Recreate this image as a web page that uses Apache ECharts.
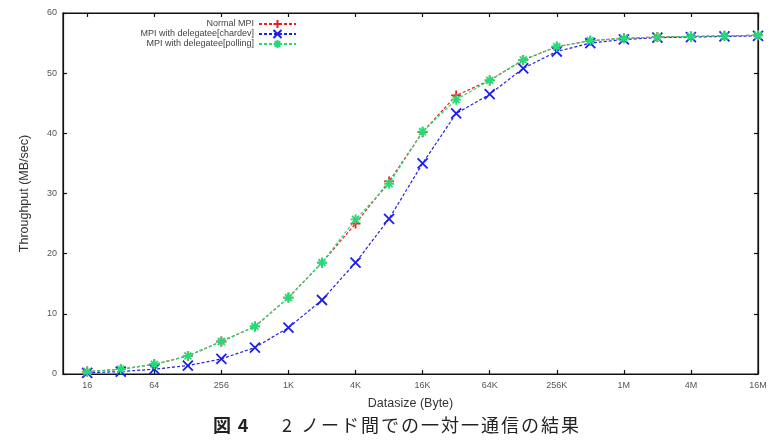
<!DOCTYPE html>
<html>
<head>
<meta charset="utf-8">
<script src="https://cdn.jsdelivr.net/npm/echarts@6/dist/echarts.min.js"></script>
<style>
html,body{margin:0;padding:0;background:#fff;}
#chart{width:777px;height:448px;}
</style>
</head>
<body>
<div id="chart"></div>
<script>
// Data sizes in bytes (x values)
const sizes = [16, 32, 64, 128, 256, 512, 1024, 2048, 4096, 8192, 16384, 32768, 65536,
  131072, 262144, 524288, 1048576, 2097152, 4194304, 8388608, 16777216];
// Tick positions and labels
const tickSizes = [16, 64, 256, 1024, 4096, 16384, 65536, 262144, 1048576, 4194304, 16777216];
const tickLabels = ['16', '64', '256', '1K', '4K', '16K', '64K', '256K', '1M', '4M', '16M'];

const seriesNames = ['Normal MPI', 'MPI with delegatee[chardev]', 'MPI with delegatee[polling]'];
const normalMPI = [0.4, 0.8, 1.6, 3.0, 5.4, 7.9, 12.7, 18.5, 25.0, 32.0, 40.2, 46.3, 48.8,
  52.2, 54.4, 55.4, 55.8, 56.0, 56.1, 56.2, 56.3];
const chardev = [0.2, 0.4, 0.8, 1.4, 2.5, 4.4, 7.7, 12.3, 18.5, 25.8, 35.0, 43.3, 46.5,
  50.8, 53.6, 55.0, 55.6, 55.9, 56.0, 56.1, 56.2];
const polling = [0.4, 0.8, 1.6, 3.0, 5.4, 7.9, 12.7, 18.5, 25.7, 31.6, 40.3, 45.6, 48.8,
  52.2, 54.4, 55.4, 55.8, 56.0, 56.1, 56.2, 56.3];

const captionHead = ['図', '4'];
const captionNum = '2';
const captionBody = 'ノード間での一対一通信の結果';

const xMinSize = 9.7;
const xMaxSize = 16777216;

const lg = v => Math.log2(v);
const tickVals = tickSizes.map(lg);
function xLabel(v) {
  for (let i = 0; i < tickVals.length; i++) {
    if (Math.abs(tickVals[i] - v) < 1e-6) return tickLabels[i];
  }
  return '';
}
function pts(vals) { return sizes.map((s, i) => [lg(s), vals[i]]); }

const colors = ['#ee1c1c', '#1f1fe6', '#22dd77'];
const symbols = [
  'path://M5,0L5,10M0,5L10,5',
  'path://M0,0L10,10M10,0L0,10',
  'path://M5,0L5,10M0,5L10,5M1.5,1.5L8.5,8.5M8.5,1.5L1.5,8.5'
];
const dataSets = [normalMPI, chardev, polling];

const captionText =
  '{h1|' + captionHead[0] + '}{h2|' + captionHead[1] + '}{g1| }{n|' + captionNum + '}{g2| }' +
  captionBody.split('').map(c => '{c|' + c + '}').join('');

const chart = echarts.init(document.getElementById('chart'), null, {renderer: 'canvas'});
const axisFont = {fontFamily: 'Liberation Sans, Arial, sans-serif', fontSize: 9, color: '#555'};
const capFont = 'Noto Sans CJK JP, sans-serif';

const option = {
  animation: false,
  backgroundColor: '#fff',
  grid: {left: 63, right: 19, top: 13, bottom: 74, show: true, borderColor: '#111', borderWidth: 1.2},
  legend: {
    orient: 'vertical',
    right: 480,
    top: 19,
    align: 'right',
    itemWidth: 37,
    itemHeight: 10,
    itemGap: 0,
    padding: 0,
    textStyle: {fontFamily: 'Liberation Sans, Arial, sans-serif', fontSize: 9, color: '#444'},
    data: seriesNames
  },
  xAxis: [{
    type: 'value',
    min: lg(xMinSize),
    max: lg(xMaxSize),
    splitLine: {show: false},
    axisLine: {show: true, onZero: false, lineStyle: {color: '#111', width: 1.2}},
    axisTick: {show: true, inside: true, length: 4, customValues: tickVals, lineStyle: {color: '#111', width: 1.2}},
    axisLabel: Object.assign({show: true, margin: 7, customValues: tickVals, formatter: xLabel}, axisFont),
    name: 'Datasize (Byte)',
    nameLocation: 'middle',
    nameGap: 23,
    nameTextStyle: {fontFamily: 'Liberation Sans, Arial, sans-serif', fontSize: 12.5, color: '#333'}
  }, {
    type: 'value',
    position: 'top',
    min: lg(xMinSize),
    max: lg(xMaxSize),
    splitLine: {show: false},
    axisLine: {show: true, onZero: false, lineStyle: {color: '#111', width: 1.2}},
    axisTick: {show: true, inside: true, length: 4, customValues: tickVals, lineStyle: {color: '#111', width: 1.2}},
    axisLabel: {show: false}
  }],
  yAxis: [{
    type: 'value',
    min: 0, max: 60, interval: 10,
    splitLine: {show: false},
    axisLine: {show: true, onZero: false, lineStyle: {color: '#111', width: 1.2}},
    axisTick: {show: true, inside: true, length: 4, lineStyle: {color: '#111', width: 1.2}},
    axisLabel: Object.assign({margin: 6}, axisFont),
    name: 'Throughput (MB/sec)',
    nameLocation: 'middle',
    nameGap: 32,
    nameTextStyle: {fontFamily: 'Liberation Sans, Arial, sans-serif', fontSize: 12.5, color: '#333'}
  }, {
    type: 'value',
    position: 'right',
    min: 0, max: 60, interval: 10,
    splitLine: {show: false},
    axisLine: {show: true, onZero: false, lineStyle: {color: '#111', width: 1.2}},
    axisTick: {show: true, inside: true, length: 4, lineStyle: {color: '#111', width: 1.2}},
    axisLabel: {show: false}
  }],
  series: seriesNames.map((n, k) => ({
    name: n,
    type: 'line',
    xAxisIndex: 0,
    yAxisIndex: 0,
    data: pts(dataSets[k]),
    symbol: symbols[k],
    symbolSize: 10,
    showAllSymbol: true,
    color: colors[k],
    lineStyle: {color: colors[k], width: 1.2, type: [3, 2]},
    itemStyle: {color: colors[k], borderColor: colors[k], borderWidth: 1.8},
    z: 2 + k
  })),
  graphic: [{
    type: 'text',
    left: 211,
    top: 416,
    style: {
      text: captionText,
      fontFamily: capFont,
      fontSize: 18,
      fill: '#222',
      rich: {
        h1: {fontFamily: capFont, fontSize: 18, fontWeight: 'bold', fill: '#222', width: 22, align: 'center', lineHeight: 20},
        h2: {fontFamily: capFont, fontSize: 18, fontWeight: 'bold', fill: '#222', width: 20, align: 'center', lineHeight: 20},
        g1: {fontSize: 18, width: 24, lineHeight: 20},
        n: {fontFamily: capFont, fontSize: 18, fill: '#222', width: 20, align: 'center', lineHeight: 20},
        g2: {fontSize: 18, width: 3, lineHeight: 20},
        c: {fontFamily: capFont, fontSize: 18, fill: '#222', width: 20, align: 'center', lineHeight: 20}
      }
    }
  }]
};
chart.setOption(option);
</script>
</body>
</html>
